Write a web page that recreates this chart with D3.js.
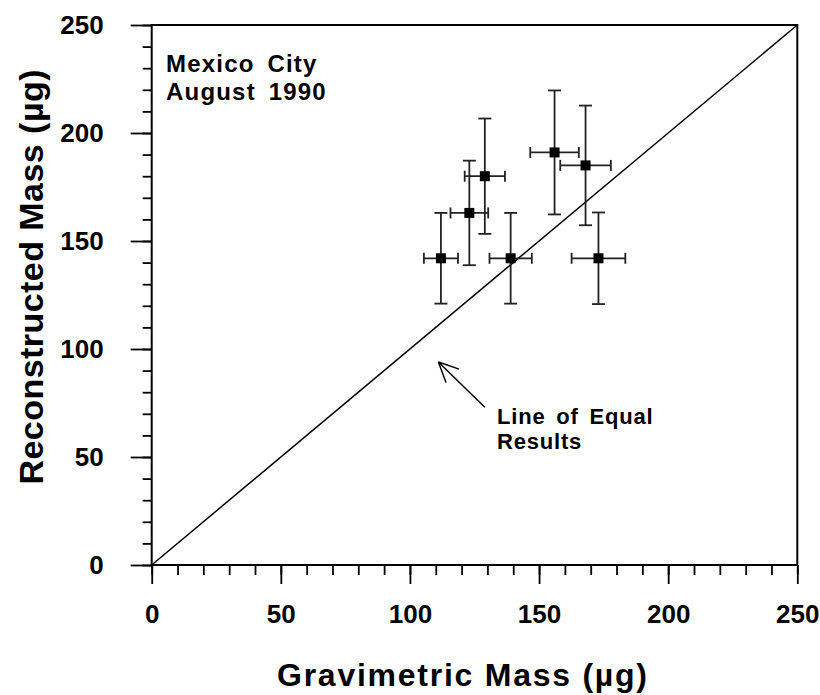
<!DOCTYPE html>
<html><head><meta charset="utf-8">
<script src="https://cdn.jsdelivr.net/npm/d3@7"></script>
<style>
body{margin:0;background:#fff;}
text{font-family:"Liberation Sans",Arial,sans-serif;font-weight:bold;fill:#000;}
</style></head>
<body><svg id="c" width="820" height="695"></svg>
<script>
// Data
const gravimetric   = [112, 123, 129, 139, 156, 168, 173];
const reconstructed = [142, 163, 180, 142, 191, 185, 142];
const gravErr       = [6.6, 7.3, 7.8, 8.2, 9.4, 9.8, 10.4];
const reconErr      = [21, 24.2, 26.7, 21, 28.7, 27.7, 21.2];
const majorTicks    = [0, 50, 100, 150, 200, 250];
const minorTicks    = d3.range(0, 251, 10);
const annotationTitle = ["Mexico City", "August 1990"];
const lineLabel       = ["Line of Equal", "Results"];
const arrowFrom = [129, 73], arrowTo = [111, 94];

const svg = d3.select("#c");
const L = 151.7, R = 797.3, T = 25, B = 565;
const x = d3.scaleLinear().domain([0, 250]).range([L, R]);
const y = d3.scaleLinear().domain([0, 250]).range([B, T]);

const xMinor = d3.axisBottom(x).tickValues(minorTicks).tickSize(10).tickFormat("");
const xMajor = d3.axisBottom(x).tickValues(majorTicks).tickSize(19).tickPadding(21).tickFormat(d3.format("d"));
const yMinor = d3.axisLeft(y).tickValues(minorTicks).tickSize(9).tickFormat("");
const yMajor = d3.axisLeft(y).tickValues(majorTicks).tickSize(21).tickPadding(27).tickFormat(d3.format("d"));

function style(g){
  g.select(".domain").remove();
  g.selectAll("line").attr("stroke","#000").attr("stroke-width",1.8);
  g.selectAll("text").attr("font-family",null).attr("font-size",null)
    .style("font-size","26px");
}
svg.append("g").attr("transform",`translate(0,${B})`).call(xMinor).call(style);
svg.append("g").attr("transform",`translate(0,${B})`).call(xMajor).call(style);
svg.append("g").attr("transform",`translate(${L},0)`).call(yMinor).call(style);
svg.append("g").attr("transform",`translate(${L},0)`).call(yMajor).call(style);

// frame
svg.append("rect").attr("x",x(0)).attr("y",y(250)).attr("width",x(250)-x(0)).attr("height",y(0)-y(250))
  .attr("fill","none").attr("stroke","#000").attr("stroke-width",2);

// line of equal results
svg.append("line").attr("x1",x(0)).attr("y1",y(0)).attr("x2",x(250)).attr("y2",y(250))
  .attr("stroke","#000").attr("stroke-width",1.5);

// error bars
const pts = gravimetric.map((g,i)=>({gx:g, gy:reconstructed[i], ex:gravErr[i], ey:reconErr[i]}));
const eb = svg.append("g").attr("stroke","#222").attr("stroke-width",1.8);
pts.forEach(p=>{
  eb.append("line").attr("x1",x(p.gx-p.ex)).attr("x2",x(p.gx+p.ex)).attr("y1",y(p.gy)).attr("y2",y(p.gy));
  eb.append("line").attr("x1",x(p.gx)).attr("x2",x(p.gx)).attr("y1",y(p.gy-p.ey)).attr("y2",y(p.gy+p.ey));
  [p.gx-p.ex, p.gx+p.ex].forEach(v=>eb.append("line").attr("x1",x(v)).attr("x2",x(v)).attr("y1",y(p.gy)-5.5).attr("y2",y(p.gy)+5.5));
  [p.gy-p.ey, p.gy+p.ey].forEach(v=>eb.append("line").attr("y1",y(v)).attr("y2",y(v)).attr("x1",x(p.gx)-6.5).attr("x2",x(p.gx)+6.5));
});
const sq = 10;
svg.append("g").selectAll("rect").data(pts).join("rect")
  .attr("x",d=>x(d.gx)-sq/2).attr("y",d=>y(d.gy)-sq/2).attr("width",sq).attr("height",sq).attr("fill","#000");

// arrow
const ax0 = x(arrowFrom[0]), ay0 = y(arrowFrom[1]), ax1 = x(arrowTo[0]), ay1 = y(arrowTo[1]);
svg.append("line").attr("x1",ax0).attr("y1",ay0).attr("x2",ax1).attr("y2",ay1).attr("stroke","#000").attr("stroke-width",1.5);
const ang = Math.atan2(ay0-ay1, ax0-ax1);
[-0.44, 0.44].forEach(da=>{
  svg.append("line").attr("x1",ax1).attr("y1",ay1)
    .attr("x2",ax1+22*Math.cos(ang+da)).attr("y2",ay1+22*Math.sin(ang+da))
    .attr("stroke","#000").attr("stroke-width",1.5);
});

// annotations
function lines(arr, x0, y0, dy, fs, ls, ws){
  arr.forEach((s,i)=>svg.append("text").attr("x",x0).attr("y",y0+i*dy)
    .style("font-size",fs+"px").style("letter-spacing",ls+"px").style("word-spacing",ws+"px").text(s));
}
lines(annotationTitle, 166, 72, 28, 24, 1.2, 5);
lines(lineLabel, 497, 424, 25, 22, 0.8, 4);

// axis titles
svg.append("text").attr("x",462).attr("y",686).attr("text-anchor","middle")
  .style("font-size","32px").attr("textLength",370).attr("lengthAdjust","spacing")
  .text("Gravimetric Mass (\u00b5g)");
svg.append("text").attr("transform",`translate(43,277) rotate(-90)`).attr("text-anchor","middle")
  .style("font-size","34px").attr("textLength",415).attr("lengthAdjust","spacing")
  .text("Reconstructed Mass (\u00b5g)");
</script></body></html>
